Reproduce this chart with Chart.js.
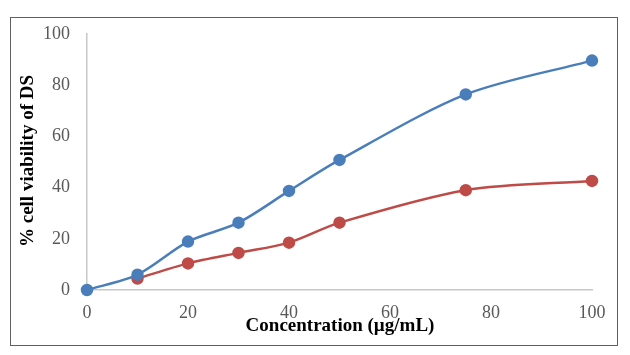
<!DOCTYPE html>
<html><head><meta charset="utf-8">
<script src="https://cdn.jsdelivr.net/npm/chart.js@4/dist/chart.umd.min.js"></script>
<style>
html,body{margin:0;padding:0;background:#fff;}
#wrap{position:relative;width:630px;height:355px;}
#frame{position:absolute;left:10px;top:17px;width:606px;height:327px;border:1px solid #606060;box-sizing:content-box;}
canvas{position:absolute;left:0;top:0;}
</style></head>
<body>
<div id="wrap"><div id="frame"></div><canvas id="c" width="630" height="355"></canvas></div>
<script>
const concentrations = [0, 10, 20, 30, 40, 50, 75, 100];
const blueSeries = [0, 6, 18.9, 26.3, 38.7, 50.8, 76.4, 89.6];
const redConc = [10, 20, 30, 40, 50, 75, 100];
const redSeries = [4.5, 10.4, 14.5, 18.5, 26.3, 39, 42.6];
const xTitle = 'Concentration (µg/mL)';
const yTitle = '% cell viability of DS';

const toPts = (xs, ys) => xs.map((x, i) => ({x: x, y: ys[i]}));

const titlePlugin = {
  id: 'titles',
  afterDraw(chart) {
    const ctx = chart.ctx;
    ctx.save();
    ctx.fillStyle = '#000';
    ctx.font = 'bold 19px "Liberation Serif"';
    ctx.textAlign = 'center';
    ctx.textBaseline = 'middle';
    ctx.fillText(xTitle, 340, 326);
    ctx.translate(28, 161);
    ctx.rotate(-Math.PI / 2);
    ctx.fillText(yTitle, 0, 0);
    ctx.restore();
  }
};

new Chart(document.getElementById('c'), {
  type: 'scatter',
  data: {
    datasets: [
      {data: toPts(concentrations, blueSeries), borderColor: '#4a7ebb', backgroundColor: '#4a7ebb',
       showLine: true, tension: 0.3, borderWidth: 2.5, pointRadius: 5, pointHoverRadius: 5, clip: false},
      {data: toPts(redConc, redSeries), borderColor: '#be4b48', backgroundColor: '#be4b48',
       showLine: true, tension: 0.3, borderWidth: 2.5, pointRadius: 5, pointHoverRadius: 5, clip: false}
    ]
  },
  options: {
    responsive: false,
    animation: false,
    layout: {padding: {left: 0, top: 34, right: 38, bottom: 0}},
    plugins: {legend: {display: false}, tooltip: {enabled: false}},
    scales: {
      x: {
        type: 'linear', min: 0, max: 100,
        ticks: {stepSize: 20, color: '#595959', font: {family: '"Liberation Serif"', size: 18}, padding: 12},
        grid: {display: false, drawTicks: false},
        border: {display: true, color: '#c8c8c8', width: 1.5},
        afterFit(s) { s.height = 65; }
      },
      y: {
        min: 0, max: 100,
        ticks: {stepSize: 20, color: '#595959', font: {family: '"Liberation Serif"', size: 18}, padding: 17},
        grid: {display: false, drawTicks: false},
        border: {display: true, color: '#c8c8c8', width: 1.5},
        afterFit(s) { s.width = 87; }
      }
    }
  },
  plugins: [titlePlugin]
});
</script>
</body></html>
